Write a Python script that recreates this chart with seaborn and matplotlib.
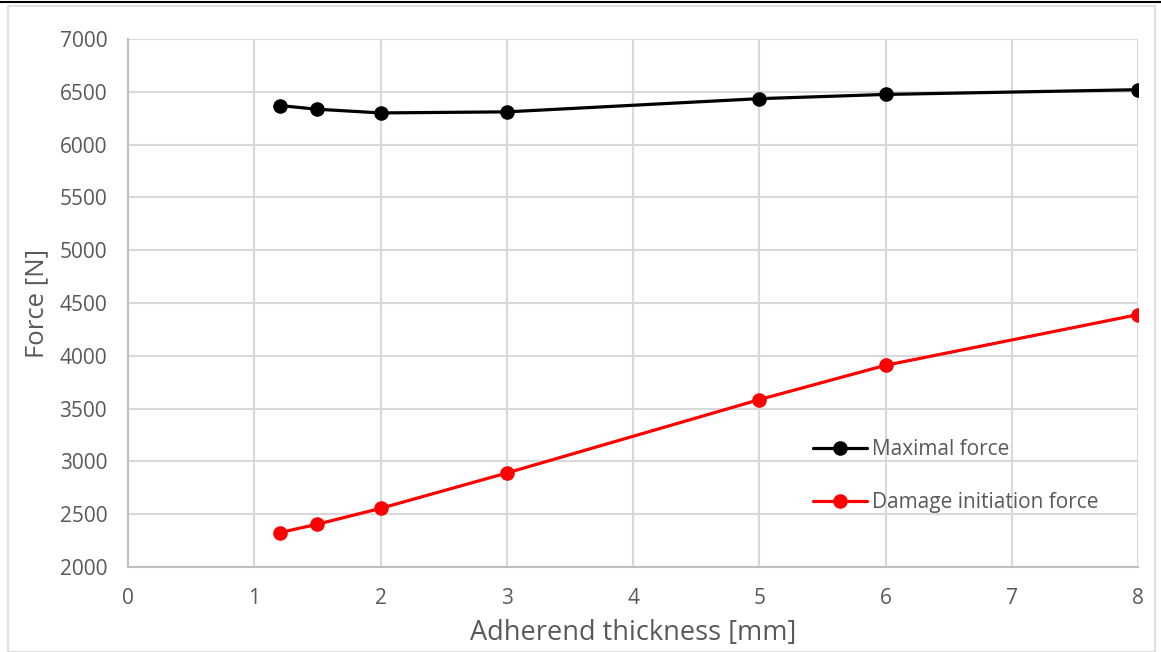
import matplotlib
matplotlib.use("Agg")
import matplotlib.pyplot as plt
import seaborn as sns
import pandas as pd
from matplotlib.patches import Rectangle
from matplotlib.lines import Line2D

thickness = [1.2, 1.5, 2, 3, 5, 6, 8]
maximal_force = [6370, 6335, 6300, 6310, 6435, 6475, 6520]
damage_force = [2325, 2405, 2555, 2890, 3585, 3910, 4390]
series_names = ["Maximal force", "Damage initiation force"]
colors = ["#000000", "#ff0000"]
x_ticks = [0, 1, 2, 3, 4, 5, 6, 7, 8]
y_ticks = [2000, 2500, 3000, 3500, 4000, 4500, 5000, 5500, 6000, 6500, 7000]

df = pd.DataFrame({
    "Adherend thickness [mm]": thickness * 2,
    "Force [N]": maximal_force + damage_force,
    "series": [series_names[0]] * len(thickness) + [series_names[1]] * len(thickness),
})

sns.set_theme(style="white")
plt.rcParams['font.family'] = ['Open Sans', 'DejaVu Sans']

fig = plt.figure(figsize=(11.61, 6.52), dpi=100)
ax = fig.add_axes([128/1161, 1-567/652, (1138-128)/1161, (567-39)/652])

sns.lineplot(data=df, x="Adherend thickness [mm]", y="Force [N]", hue="series",
             palette=dict(zip(series_names, colors)), marker="o", markersize=10.5,
             markeredgewidth=0, linewidth=2.3, ax=ax, legend=False, zorder=3)

ax.set_xlim(0, 8)
ax.set_ylim(2000, 7000)
ax.set_xticks(x_ticks)
ax.set_yticks(y_ticks)
ax.grid(True, color="#d9d9d9", linewidth=1.5)
ax.set_axisbelow(True)
for s in ["top", "right"]:
    ax.spines[s].set_visible(False)
for s in ["left", "bottom"]:
    ax.spines[s].set_color("#bfbfbf")
    ax.spines[s].set_linewidth(1.5)
ax.tick_params(axis="both", length=0, labelsize=15, colors="#595959")
ax.tick_params(axis="y", pad=15)
ax.tick_params(axis="x", pad=15)
ax.set_xlabel("Adherend thickness [mm]", fontsize=19.5, color="#595959", labelpad=7)
ax.set_ylabel("Force [N]", fontsize=18.5, color="#595959", labelpad=7)

handles = [Line2D([0], [0], color=c, marker="o", markersize=10.5, markeredgewidth=0, linewidth=2.3)
           for c in colors]
fig.legend(handles, series_names, loc="center left", bbox_to_anchor=(813/1161, 1-476/652),
           frameon=False, fontsize=15, labelcolor="#595959", labelspacing=1.55,
           handlelength=2.6, handletextpad=0.25, borderpad=0, borderaxespad=0)

fig.patches.append(Rectangle((8/1161, 0), 1147/1161, 1-6/652, transform=fig.transFigure,
                             fill=False, edgecolor="#d9d9d9", linewidth=1.2))
fig.add_artist(Line2D([0, 1], [1-2/652, 1-2/652], transform=fig.transFigure, color="black", linewidth=1.5))

fig.savefig("out.png", dpi=100)
